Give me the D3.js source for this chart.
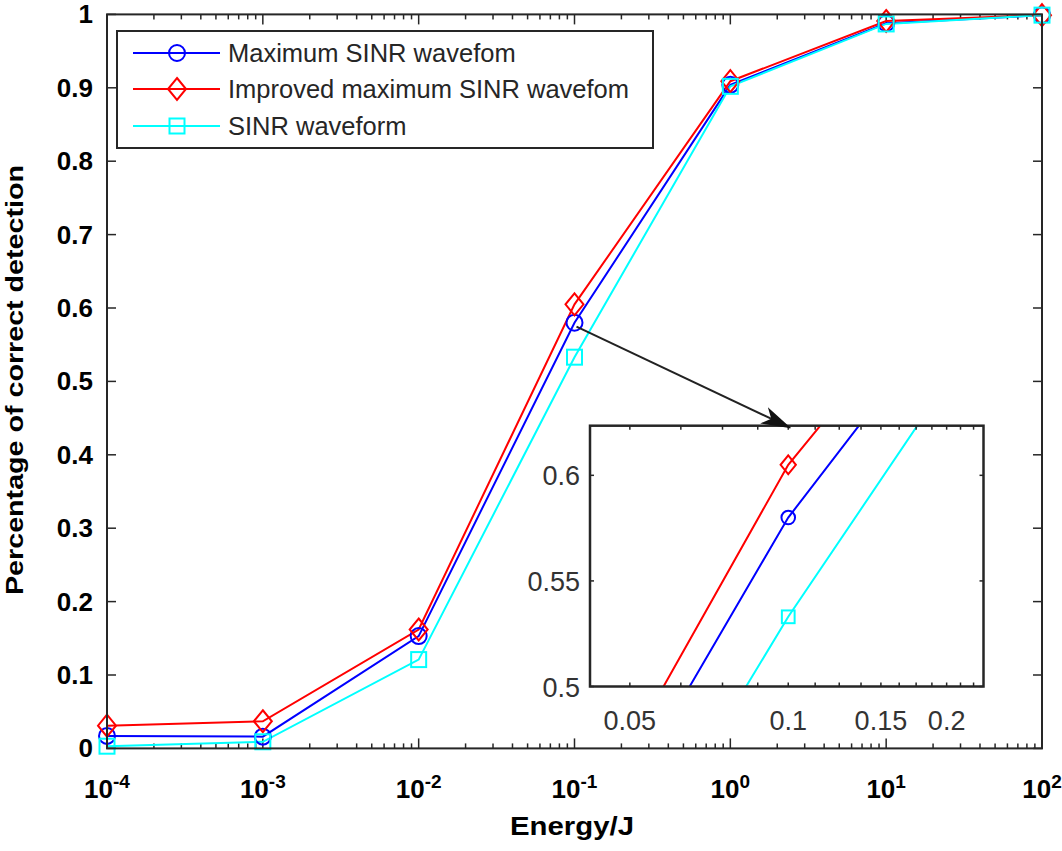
<!DOCTYPE html>
<html>
<head>
<meta charset="utf-8">
<script src="https://cdn.jsdelivr.net/npm/d3@7"></script>
<style>
  html, body { margin: 0; padding: 0; background: #fff; }
  svg { display: block; }
</style>
</head>
<body>
<svg id="chart" width="1062" height="851"></svg>
<script>
// ---- data ----
const energy = [1e-4, 1e-3, 1e-2, 1e-1, 1e0, 1e1, 1e2];
const maxSINR = [0.017, 0.016, 0.153, 0.580, 0.904, 0.988, 0.999];
const improvedSINR = [0.031, 0.037, 0.162, 0.605, 0.909, 0.991, 0.999];
const sinrWave = [0.003, 0.009, 0.121, 0.533, 0.902, 0.987, 0.999];
const seriesNames = ["Maximum SINR wavefom", "Improved maximum SINR wavefom", "SINR waveform"];
const seriesColors = ["#0000ff", "#ff0000", "#00ffff"];
const seriesSymbols = ["circle", "diamond", "square"];
const yTicks = [0, 0.1, 0.2, 0.3, 0.4, 0.5, 0.6, 0.7, 0.8, 0.9, 1];
const yTickLabels = ["0", "0.1", "0.2", "0.3", "0.4", "0.5", "0.6", "0.7", "0.8", "0.9", "1"];
const xTickExps = [-4, -3, -2, -1, 0, 1, 2];
const insetXTicks = [0.05, 0.0625, 0.075, 0.0875, 0.1, 0.1125, 0.125, 0.1375, 0.15, 0.1625, 0.175, 0.1875, 0.2, 0.2125, 0.225];
const insetXLabels = [0.05, 0.1, 0.15, 0.2];
const insetYTicks = [0.5, 0.55, 0.6];
const insetXDomain = [0.042, 0.235];
const insetYDomain = [0.5, 0.6235];
const xLabel = "Energy/J";
const yLabel = "Percentage of correct detection";

const series = [maxSINR, improvedSINR, sinrWave].map((vals, i) => ({
  name: seriesNames[i], color: seriesColors[i], symbol: seriesSymbols[i],
  points: energy.map((e, j) => ({ x: e, y: vals[j] }))
}));

const svg = d3.select("#chart");
const axisColor = "#262626";

// ---- main plot ----
const M = { left: 107, right: 1042, top: 14.4, bottom: 748.4 };
const x = d3.scaleLog().domain([1e-4, 1e2]).range([M.left, M.right]);
const y = d3.scaleLinear().domain([0, 1]).range([M.bottom, M.top]);

function drawMarker(g, sym, cx, cy, color, s) {
  if (sym === "circle") {
    g.append("circle").attr("cx", cx).attr("cy", cy).attr("r", 8 * s)
      .attr("fill", "none").attr("stroke", color).attr("stroke-width", 2);
  } else if (sym === "diamond") {
    const w = 9 * s, h = 11 * s;
    g.append("path").attr("d", `M${cx},${cy - h}L${cx + w},${cy}L${cx},${cy + h}L${cx - w},${cy}Z`)
      .attr("fill", "none").attr("stroke", color).attr("stroke-width", 2);
  } else {
    const a = 7.5 * s;
    g.append("rect").attr("x", cx - a).attr("y", cy - a).attr("width", 2 * a).attr("height", 2 * a)
      .attr("fill", "none").attr("stroke", color).attr("stroke-width", 2);
  }
}

// ticks
const tg = svg.append("g").attr("stroke", axisColor).attr("stroke-width", 1.5);
xTickExps.forEach(e => {
  const v = Math.pow(10, e);
  const px = x(v);
  tg.append("line").attr("x1", px).attr("x2", px).attr("y1", M.bottom).attr("y2", M.bottom - 10);
  tg.append("line").attr("x1", px).attr("x2", px).attr("y1", M.top).attr("y2", M.top + 10);
  if (e < 2) {
    for (let k = 2; k <= 9; k++) {
      const mx = x(k * v);
      tg.append("line").attr("x1", mx).attr("x2", mx).attr("y1", M.bottom).attr("y2", M.bottom - 5);
      tg.append("line").attr("x1", mx).attr("x2", mx).attr("y1", M.top).attr("y2", M.top + 5);
    }
  }
});
yTicks.forEach(v => {
  const py = y(v);
  tg.append("line").attr("x1", M.left).attr("x2", M.left + 9).attr("y1", py).attr("y2", py);
  tg.append("line").attr("x1", M.right).attr("x2", M.right - 9).attr("y1", py).attr("y2", py);
});

// series lines
const line = d3.line().x(d => x(d.x)).y(d => y(d.y));
const sg = svg.append("g");
series.forEach(s => {
  sg.append("path").datum(s.points).attr("d", line)
    .attr("fill", "none").attr("stroke", s.color).attr("stroke-width", 2);
});
series.forEach(s => {
  s.points.forEach(p => drawMarker(sg, s.symbol, x(p.x), y(p.y), s.color, 1));
});

// main box
svg.append("rect").attr("x", M.left).attr("y", M.top)
  .attr("width", M.right - M.left).attr("height", M.bottom - M.top)
  .attr("fill", "none").attr("stroke", axisColor).attr("stroke-width", 2);

// y tick labels
const labelFont = "'Liberation Sans', Arial, sans-serif";
yTicks.forEach((v, i) => {
  svg.append("text").attr("x", 93).attr("y", y(v) + 9)
    .attr("text-anchor", "end").attr("font-family", labelFont)
    .attr("font-weight", "bold").attr("font-size", 26).attr("fill", "#000")
    .text(yTickLabels[i]);
});
// x tick labels
xTickExps.forEach(e => {
  const t = svg.append("text").attr("x", x(Math.pow(10, e))).attr("y", 798)
    .attr("text-anchor", "middle").attr("font-family", labelFont)
    .attr("font-weight", "bold").attr("font-size", 26).attr("fill", "#000");
  t.append("tspan").text("10");
  t.append("tspan").attr("dy", -10).attr("font-size", 19).text(String(e));
});
// axis labels
svg.append("text").attr("x", 572).attr("y", 835)
  .attr("text-anchor", "middle").attr("font-family", labelFont)
  .attr("font-weight", "bold").attr("font-size", 25).attr("fill", "#000")
  .attr("textLength", 124).attr("lengthAdjust", "spacingAndGlyphs").text(xLabel);
svg.append("text").attr("transform", `translate(23,380) rotate(-90)`)
  .attr("text-anchor", "middle").attr("font-family", labelFont)
  .attr("font-weight", "bold").attr("font-size", 23).attr("fill", "#000")
  .attr("textLength", 430).attr("lengthAdjust", "spacingAndGlyphs").text(yLabel);

// ---- legend ----
const L = { x: 117, y: 31, w: 536, h: 117 };
const lg = svg.append("g");
lg.append("rect").attr("x", L.x).attr("y", L.y).attr("width", L.w).attr("height", L.h)
  .attr("fill", "#fff").attr("stroke", axisColor).attr("stroke-width", 2);
const rowY = [53, 89, 126];
series.forEach((s, i) => {
  const cy = rowY[i];
  lg.append("line").attr("x1", 133).attr("x2", 220).attr("y1", cy).attr("y2", cy)
    .attr("stroke", s.color).attr("stroke-width", 2);
  drawMarker(lg, s.symbol, 177, cy, s.color, 1);
  lg.append("text").attr("x", 228).attr("y", cy + 9)
    .attr("font-family", labelFont).attr("font-size", 25.5).attr("fill", axisColor)
    .text(s.name);
});

// ---- inset ----
const I = { left: 590, right: 983.5, top: 425.7, bottom: 686.5 };
const xi = d3.scaleLog().domain(insetXDomain).range([I.left, I.right]);
const yi = d3.scaleLinear().domain(insetYDomain).range([I.bottom, I.top]);

svg.append("rect").attr("x", I.left).attr("y", I.top)
  .attr("width", I.right - I.left).attr("height", I.bottom - I.top).attr("fill", "#fff");

svg.append("defs").append("clipPath").attr("id", "insetClip")
  .append("rect").attr("x", I.left).attr("y", I.top)
  .attr("width", I.right - I.left).attr("height", I.bottom - I.top);

const ig = svg.append("g").attr("clip-path", "url(#insetClip)");
const lineIn = d3.line().x(d => xi(d.x)).y(d => yi(d.y));
series.forEach(s => {
  ig.append("path").datum(s.points).attr("d", lineIn)
    .attr("fill", "none").attr("stroke", s.color).attr("stroke-width", 2);
});
series.forEach(s => {
  s.points.forEach(p => drawMarker(ig, s.symbol, xi(p.x), yi(p.y), s.color, 0.85));
});

const itg = svg.append("g").attr("stroke", axisColor).attr("stroke-width", 1.5);
insetXTicks.forEach(v => {
  const px = xi(v);
  itg.append("line").attr("x1", px).attr("x2", px).attr("y1", I.bottom).attr("y2", I.bottom - 4);
  itg.append("line").attr("x1", px).attr("x2", px).attr("y1", I.top).attr("y2", I.top + 4);
});
insetYTicks.forEach(v => {
  const py = yi(v);
  itg.append("line").attr("x1", I.left).attr("x2", I.left + 4).attr("y1", py).attr("y2", py);
  itg.append("line").attr("x1", I.right).attr("x2", I.right - 4).attr("y1", py).attr("y2", py);
});
svg.append("rect").attr("x", I.left).attr("y", I.top)
  .attr("width", I.right - I.left).attr("height", I.bottom - I.top)
  .attr("fill", "none").attr("stroke", axisColor).attr("stroke-width", 2.5);

insetXLabels.forEach(v => {
  svg.append("text").attr("x", xi(v)).attr("y", 730)
    .attr("text-anchor", "middle").attr("font-family", labelFont)
    .attr("font-size", 27).attr("fill", "#333").text(String(v));
});
insetYTicks.forEach(v => {
  svg.append("text").attr("x", 580).attr("y", yi(v) + 10)
    .attr("text-anchor", "end").attr("font-family", labelFont)
    .attr("font-size", 27).attr("fill", "#333").text(String(v));
});

// ---- arrow ----
svg.select("defs").append("marker").attr("id", "arrowHead")
  .attr("viewBox", "0 0 30 18").attr("refX", 29).attr("refY", 9)
  .attr("markerWidth", 30).attr("markerHeight", 18).attr("markerUnits", "userSpaceOnUse")
  .attr("orient", "auto")
  .append("path").attr("d", "M0,0L30,9L0,18L8,9Z").attr("fill", "#111");
const a0 = [x(0.1) + 2, y(maxSINR[3]) + 4];
const a1 = [xi(0.1) + 2, I.top + 2];
svg.append("line").attr("x1", a0[0]).attr("y1", a0[1]).attr("x2", a1[0]).attr("y2", a1[1])
  .attr("stroke", "#222").attr("stroke-width", 2).attr("marker-end", "url(#arrowHead)");
</script>
</body>
</html>
